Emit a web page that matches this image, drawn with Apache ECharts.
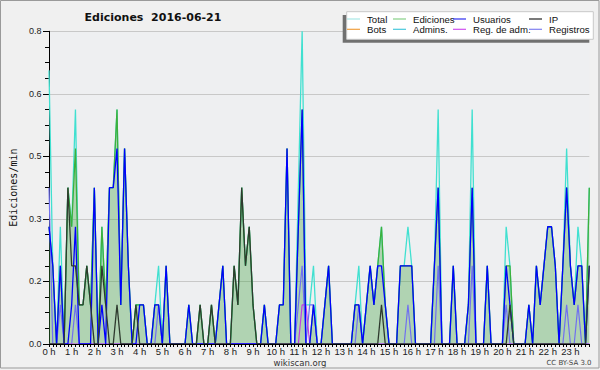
<!DOCTYPE html>
<html>
<head>
<meta charset="utf-8">
<script src="https://cdn.jsdelivr.net/npm/echarts@6/dist/echarts.min.js"></script>
<style>
html,body{margin:0;padding:0;background:#f0f0f0;}
#c{width:600px;height:370px;}
</style>
</head>
<body>
<div id="c"></div>
<script>
// Tick labels (one per hour, 6 ten-minute steps each)
const hourLabels = ['0 h','1 h','2 h','3 h','4 h','5 h','6 h','7 h','8 h','9 h','10 h','11 h',
  '12 h','13 h','14 h','15 h','16 h','17 h','18 h','19 h','20 h','21 h','22 h','23 h'];
const yTicks = [0, 0.16, 0.32, 0.48, 0.64, 0.8];

// Series values (edits per minute, 10-minute steps)
const total = [
 .7,.2,0,.3,0,.4,.3,.6,.1,.1,.2,.1,
 .4,0,.3,.1,.4,.4,.6,.1,.5,.2,0,.1,
 .1,.1,0,0,.1,.2,0,.2,0,0,0,0,
 0,.1,0,0,.1,0,0,.1,0,.1,.2,0,
 0,.2,.1,.4,.2,.3,.1,0,0,.1,0,0,
 0,.1,.1,.5,0,0,.4,.8,.1,.1,.2,0,
 0,.1,.2,0,0,0,0,0,0,.1,.2,0,
 .1,.2,.1,.2,.3,.1,0,0,0,.2,.2,.3,
 .2,0,0,0,0,0,.2,.6,0,0,0,.2,
 0,0,0,.1,.6,0,0,0,.2,0,0,0,
 0,.3,.2,0,0,0,0,.1,0,.2,.1,.2,
 .3,.3,.2,0,.2,.5,.2,.1,.3,.2,0,.4];
const ediciones = [
 .3,.2,0,.2,0,.4,.3,.5,.1,.1,.2,.1,
 .4,0,.3,.1,.4,.4,.6,.1,.5,.2,0,.1,
 .1,.1,0,0,.1,.1,0,.2,0,0,0,0,
 0,.1,0,0,.1,0,0,.1,0,.1,.2,0,
 0,.2,.1,.4,.2,.3,.1,0,0,.1,0,0,
 0,.1,.1,.5,0,0,.3,.6,0,0,.1,0,
 0,.1,.2,0,0,0,0,0,0,.1,.1,0,
 .1,.2,.1,.2,.3,.1,0,0,0,.2,.2,.2,
 .2,0,0,0,0,0,.2,.4,0,0,0,.2,
 0,0,0,.1,.4,0,0,0,.2,0,0,0,
 0,.2,.2,0,0,0,0,.1,0,.2,.1,.2,
 .3,.3,.2,0,.2,.4,.2,.1,.2,.2,0,.4];
const usuarios = [
 .3,.2,0,.2,0,0,.1,.3,0,0,0,0,
 .4,0,.1,0,.4,.4,.5,.1,.5,.2,0,0,
 .1,.1,0,0,.1,.1,0,.2,0,0,0,0,
 0,.1,0,0,0,0,0,0,0,.1,.2,0,
 0,0,0,0,0,0,0,0,0,.1,0,0,
 0,.1,.1,.5,0,0,.3,.6,0,0,.1,0,
 0,.1,.2,0,0,0,0,0,0,.1,.1,0,
 .1,.2,.1,.2,.2,.1,0,0,0,.2,.2,.2,
 .2,0,0,0,0,0,.2,.4,0,0,0,.2,
 0,0,0,.1,.4,0,0,0,.2,0,0,0,
 0,.2,.1,0,0,0,0,.1,0,.2,.1,.2,
 .3,.3,.2,0,.2,.4,.2,.1,.2,.2,0,.2];
const ip = [
 0,0,0,0,0,.4,.2,.2,.1,.1,.2,.1,
 0,0,.2,.1,0,0,.1,0,0,0,0,.1,
 0,0,0,0,0,0,0,0,0,0,0,0,
 0,0,0,0,.1,0,0,.1,0,0,0,0,
 0,.2,.1,.4,.2,.3,.1,0,0,0,0,0,
 0,0,0,0,0,0,0,0,0,0,0,0,
 0,0,0,0,0,0,0,0,0,0,0,0,
 0,0,0,0,.1,0,0,0,0,0,0,0,
 0,0,0,0,0,0,0,0,0,0,0,0,
 0,0,0,0,0,0,0,0,0,0,0,0,
 0,0,.1,0,0,0,0,0,0,0,0,0,
 0,0,0,0,0,0,0,0,0,0,0,.2];
const registros = [
 .4,0,0,.1,0,0,0,.1,0,0,0,0,
 0,0,0,0,0,0,0,0,0,0,0,0,
 0,0,0,0,0,.1,0,0,0,0,0,0,
 0,0,0,0,0,0,0,0,0,0,0,0,
 0,0,0,0,0,0,0,0,0,0,0,0,
 0,0,0,0,0,0,.1,.2,0,.1,.1,0,
 0,0,0,0,0,0,0,0,0,0,.1,0,
 0,0,0,0,0,0,0,0,0,0,0,.1,
 0,0,0,0,0,0,0,.2,0,0,0,0,
 0,0,0,0,.2,0,0,0,0,0,0,0,
 0,.1,0,0,0,0,0,0,0,0,0,0,
 0,0,0,0,0,.1,0,0,.1,0,0,0];
const regAdm = [
 0,0,0,0,0,0,0,0,0,0,0,0,
 0,0,0,0,0,0,0,0,0,0,0,0,
 0,0,0,0,0,0,0,0,0,0,0,0,
 0,0,0,0,0,0,0,0,0,0,0,0,
 0,0,0,0,0,0,0,0,0,0,0,0,
 0,0,0,0,0,0,0,.1,.1,0,0,0,
 0,0,0,0,0,0,0,0,0,0,0,0,
 0,0,0,0,0,0,0,0,0,0,0,0,
 0,0,0,0,0,0,0,0,0,0,0,0,
 0,0,0,0,0,0,0,0,0,0,0,0,
 0,0,0,0,0,0,0,0,0,0,0,0,
 0,0,0,0,0,0,0,0,0,0,0,0];
const bots = [];
const admins = [];

const stepsPerHour = 6;
const categories = [];
hourLabels.forEach(h => { for (let k = 0; k < stepsPerHour; k++) categories.push(k === 0 ? h : ''); });

const FONT = '"DejaVu Sans", Verdana, sans-serif';
const SANS = '"Liberation Sans", Arial, sans-serif';
const NARROW = '"Liberation Sans Narrow", "Liberation Sans", Arial, sans-serif';

function lineSeries(name, data, color, width, z) {
  return { name, type: 'line', data, symbol: 'none', z: z,
    lineStyle: { color, width }, itemStyle: { color }, emphasis: { disabled: true } };
}

const chart = echarts.init(document.getElementById('c'), null, { renderer: 'svg' });
const legendText = { fontFamily: SANS, fontSize: 9.6, color: '#111', lineHeight: 10, padding: [0, 0, 0, 2] };
function legendItem(name, color) {
  return { name, icon: 'rect', itemStyle: { color, borderWidth: 0 } };
}
function legendCol(left, items) {
  return { orient: 'vertical', left, top: 14, padding: 0, itemGap: 0.3, itemWidth: 13, itemHeight: 1.2,
    selectedMode: false, textStyle: legendText, z: 20, data: items };
}
chart.setOption({
  animation: false,
  backgroundColor: '#f0f0f0',
  grid: { left: 46.7, right: 10.7, top: 31.3, bottom: 26, show: true, backgroundColor: '#eeeff1', borderWidth: 0 },
  xAxis: {
    type: 'category', data: categories, boundaryGap: false, z: 10,
    axisLine: { lineStyle: { color: '#000', width: 1 } },
    axisTick: { interval: 0, length: 3, lineStyle: { color: '#000' } },
    axisLabel: { interval: (i) => i % stepsPerHour === 0, margin: 3, fontFamily: NARROW, fontSize: 9.5, lineHeight: 9, color: '#222' },
    splitLine: { show: false }
  },
  yAxis: {
    type: 'value', min: yTicks[0], max: yTicks[yTicks.length - 1], interval: yTicks[1] - yTicks[0],
    name: 'Ediciones/min', nameLocation: 'middle', nameGap: 31, nameRotate: 90,
    nameTextStyle: { fontFamily: '"DejaVu Sans Mono", monospace', fontSize: 10, color: '#111' },
    axisLine: { show: true, lineStyle: { color: '#000', width: 1 } },
    axisTick: { show: true, length: 6, lineStyle: { color: '#000' } },
    minorTick: { show: true, splitNumber: 4, length: 4, lineStyle: { color: '#000' } },
    axisLabel: { formatter: v => v.toFixed(1), margin: 7.5, fontFamily: NARROW, fontSize: 9, color: '#222' },
    splitLine: { lineStyle: { color: '#c8c8c8', width: 1 } }
  },
  legend: [
    legendCol(347, [legendItem('Total', '#a8e8e6'), legendItem('Bots', '#f0a040')]),
    legendCol(393, [legendItem('Ediciones', '#88d088'), legendItem('Admins.', '#48c8dc')]),
    legendCol(453, [legendItem('Usuarios', '#3030f0'), legendItem('Reg. de adm.', '#d050f0')]),
    legendCol(529, [legendItem('IP', '#222222'), legendItem('Registros', '#8080f0')])
  ],
  graphic: [
    { type: 'rect', shape: { x: 0.5, y: 0.5, width: 598.5, height: 367.5 }, style: { fill: 'none', stroke: '#9a9a9a', lineWidth: 1 }, z: 100, silent: true },
    { type: 'rect', shape: { x: 342.7, y: 15, width: 246.6, height: 27.7 }, style: { fill: '#707070' }, z: 15, silent: true },
    { type: 'rect', shape: { x: 346.7, y: 11.7, width: 246.6, height: 27.6 }, style: { fill: '#ffffff', stroke: '#c8c8c8', lineWidth: 1 }, z: 16, silent: true },
    { type: 'text', x: 153, y: 17, z: 20, silent: true,
      style: { text: 'Ediciones  2016-06-21', font: 'bold 11px ' + FONT, fill: '#111', align: 'center', verticalAlign: 'middle' } },
    { type: 'text', x: 300, y: 362.5, z: 20, silent: true,
      style: { text: 'wikiscan.org', font: '8.5px ' + FONT, lineHeight: 8, fill: '#333', align: 'center', verticalAlign: 'middle' } },
    { type: 'text', x: 569, y: 362.5, z: 20, silent: true,
      style: { text: 'CC BY-SA 3.0', font: '7px ' + FONT, fill: '#444', align: 'center', verticalAlign: 'middle' } }
  ],
  series: [
    { name: 'EdicionesFill', type: 'line', data: ediciones, symbol: 'none', z: 1, silent: true,
      lineStyle: { width: 0 }, areaStyle: { color: 'rgba(60,160,60,0.5)' } },
    lineSeries('Total', total, '#40e0d0', 1.3, 2),
    lineSeries('Ediciones', ediciones, '#3cb03c', 1.3, 3),
    lineSeries('Bots', bots, '#f0a040', 1.3, 3),
    lineSeries('Admins.', admins, '#48c8dc', 1.3, 3),
    lineSeries('Registros', registros, '#7070f0', 1.2, 4),
    lineSeries('Reg. de adm.', regAdm, '#c040e0', 1.2, 4),
    lineSeries('Usuarios', usuarios, '#0000ff', 1.3, 5),
    lineSeries('IP', ip, '#2e3a2e', 1.3, 6)
  ]
});
</script>
</body>
</html>
